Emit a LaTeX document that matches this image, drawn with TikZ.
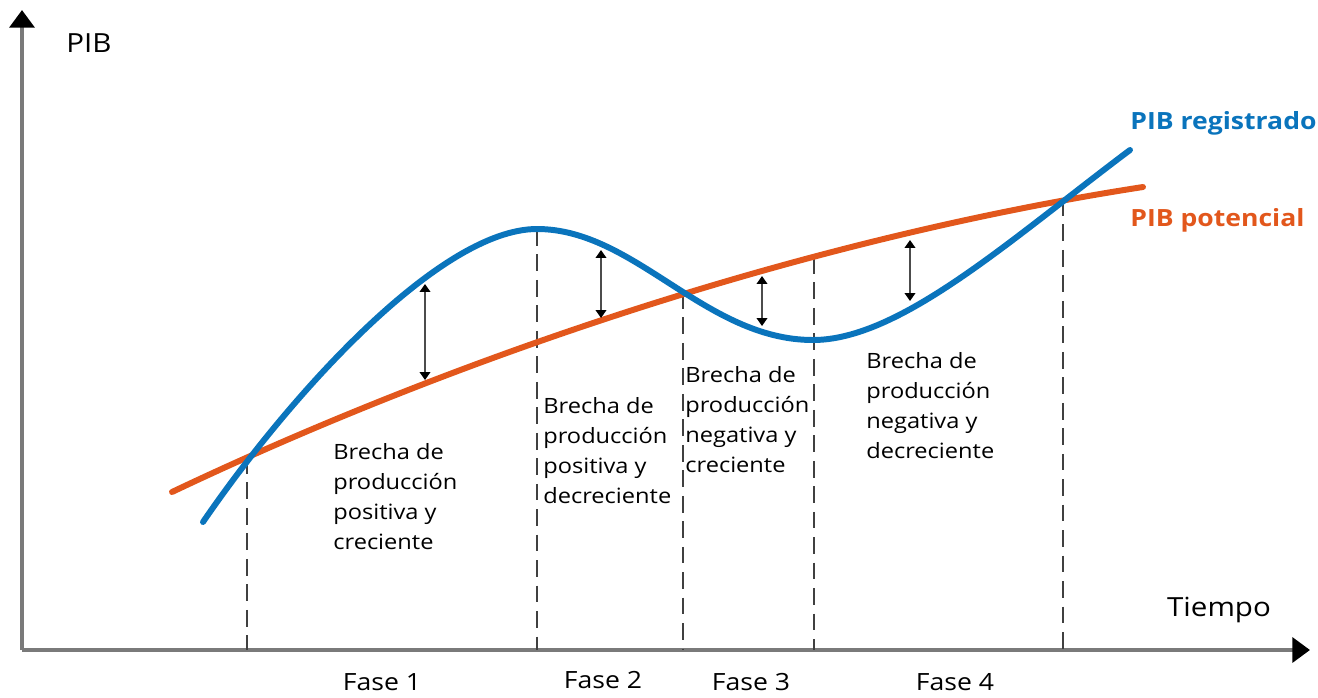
\documentclass[tikz,border=0pt]{standalone}
\usepackage{fontspec}
\setmainfont[FakeStretch=1.12]{Open Sans}
\usetikzlibrary{arrows.meta}
\definecolor{pibblue}{HTML}{0A74BC}
\definecolor{piborange}{HTML}{E2571C}
\definecolor{axisgray}{HTML}{7A7A7A}

\begin{document}
\begin{tikzpicture}[x=0.02cm,y=-0.02cm,
  axis/.style={line width=2.4pt,axisgray,-{Triangle[length=10pt,width=14pt,color=black]}},
  fasedash/.style={line width=1.1pt,black!75,dash pattern=on 9.5pt off 5pt},
  brecha/.style={line width=1pt,black!70,{Triangle[length=4.5pt,width=6pt,color=black]}-{Triangle[length=4.5pt,width=6pt,color=black]}},
  registrado/.style={line width=3.4pt,pibblue,line cap=round},
  potencial/.style={line width=3.4pt,piborange,line cap=round},
  brechatext/.style={anchor=west,inner sep=0pt,align=left,font=\fontsize{12}{17.1}\selectfont},
  fase/.style={inner sep=0pt,font=\fontsize{13.5}{16}\selectfont}]
\useasboundingbox (0,0) rectangle (1318,697);

% ejes
\coordinate (o) at (22,650);
\coordinate (ytip) at (22,10);
\coordinate (xtip) at (1310,650);
\draw[axis] (o) -- (ytip);
\draw[axis] (o) -- (xtip);
\node[inner sep=0pt,font=\fontsize{15}{17}\selectfont] (pib) at (89,43) {PIB};
\node[inner sep=0pt,font=\fontsize{15}{17}\selectfont] (tiempo) at (1219,610) {Tiempo};

% cambios de fase
\coordinate (d1) at (247,457);
\coordinate (d2) at (537,229);
\coordinate (d3) at (683,292);
\coordinate (d4) at (814,257);
\coordinate (d5) at (1063,199);
\foreach \d in {d1,d2,d3,d4,d5}
  \draw[fasedash] (\d) -- (\d |- o);

% curvas
\draw[potencial] (172,492) .. controls (450,360) and (800,240) .. (1143,187);
\draw[registrado] (203,522) .. controls (290,395) and (440,229) .. (537,229)
  .. controls (635,229) and (705,340) .. (813,340)
  .. controls (900,340) and (1010,240) .. (1130,150);
\node[anchor=west,inner sep=0pt,text=pibblue,font=\fontsize{13.5}{16}\selectfont\bfseries] (reg) at (1130,123) {PIB registrado};
\node[anchor=west,inner sep=0pt,text=piborange,font=\fontsize{13.5}{16}\selectfont\bfseries] (pot) at (1130,220) {PIB potencial};

% brechas
\coordinate (g1a) at (425,284); \coordinate (g1b) at (425,380);
\coordinate (g2a) at (601,250); \coordinate (g2b) at (601,318);
\coordinate (g3a) at (762,276); \coordinate (g3b) at (762,326);
\coordinate (g4a) at (910,240); \coordinate (g4b) at (910,301);
\draw[brecha] (g1a) -- (g1b);
\draw[brecha] (g2a) -- (g2b);
\draw[brecha] (g3a) -- (g3b);
\draw[brecha] (g4a) -- (g4b);

\node[brechatext] (t1) at (333,497) {Brecha de\\producción\\positiva y\\creciente};
\node[brechatext] (t2) at (543,451) {Brecha de\\producción\\positiva y\\decreciente};
\node[brechatext] (t3) at (685,420) {Brecha de\\producción\\negativa y\\creciente};
\node[brechatext] (t4) at (866,406) {Brecha de\\producción\\negativa y\\decreciente};

\node[fase] (f1) at (382,682) {Fase 1};
\node[fase] (f2) at (603,680) {Fase 2};
\node[fase] (f3) at (751,682) {Fase 3};
\node[fase] (f4) at (955,682) {Fase 4};
\end{tikzpicture}
\end{document}
